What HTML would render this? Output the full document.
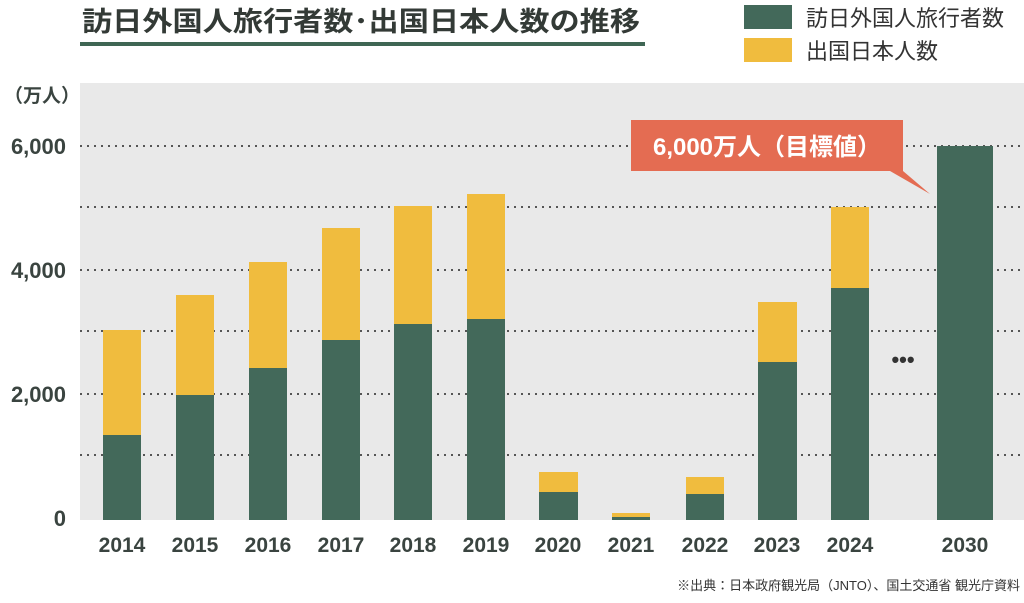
<!DOCTYPE html>
<html><head><meta charset="utf-8"><style>
body{margin:0;background:#fff;}
svg text{font-family:"Liberation Sans","Noto Sans CJK JP",sans-serif;}
</style></head><body>
<svg width="1024" height="598" viewBox="0 0 1024 598" xmlns="http://www.w3.org/2000/svg">
<rect width="1024" height="598" fill="#fff"/>
<text x="82" y="31" font-size="27" font-weight="bold" fill="#333a36" textLength="558" lengthAdjust="spacingAndGlyphs" font-family="Noto Sans CJK JP, sans-serif">訪日外国人旅行者数･出国日本人数の推移</text>
<rect x="80" y="42" width="565" height="4" fill="#3f6654"/>
<rect x="744" y="5" width="48" height="24" fill="#43695a"/>
<text x="806" y="26" font-size="22" fill="#333">訪日外国人旅行者数</text>
<rect x="744" y="38" width="48" height="24" fill="#f0bc3e"/>
<text x="806" y="59" font-size="22" fill="#333">出国日本人数</text>
<rect x="80" y="83" width="944" height="437" fill="#e9e9e9"/>
<g stroke="#555" stroke-width="2" stroke-dasharray="2,5">
<line x1="80" y1="146" x2="1024" y2="146"/><line x1="80" y1="207" x2="1024" y2="207"/>
<line x1="80" y1="270" x2="1024" y2="270"/><line x1="80" y1="331" x2="1024" y2="331"/>
<line x1="80" y1="394" x2="1024" y2="394"/><line x1="80" y1="455" x2="1024" y2="455"/>
</g>
<g font-size="22" font-weight="bold" fill="#3a4440" text-anchor="end">
<text x="66" y="154">6,000</text><text x="66" y="278">4,000</text><text x="66" y="402">2,000</text><text x="66" y="526">0</text>
</g>
<text x="4" y="102" font-size="19" font-weight="bold" fill="#3a4440">（万人）</text>
<g fill="#f0bc3e">
<rect x="103" y="330" width="38" height="190"/><rect x="176" y="295" width="38" height="225"/>
<rect x="249" y="262" width="38" height="258"/><rect x="322" y="228" width="38" height="292"/>
<rect x="394" y="206" width="38" height="314"/><rect x="467" y="194" width="38" height="326"/>
<rect x="539" y="472" width="39" height="48"/><rect x="612" y="513" width="38" height="7"/>
<rect x="686" y="477" width="38" height="43"/><rect x="758" y="302" width="39" height="218"/>
<rect x="831" y="207" width="38" height="313"/>
</g>
<g fill="#43695a">
<rect x="103" y="435" width="38" height="85"/><rect x="176" y="395" width="38" height="125"/>
<rect x="249" y="368" width="38" height="152"/><rect x="322" y="340" width="38" height="180"/>
<rect x="394" y="324" width="38" height="196"/><rect x="467" y="319" width="38" height="201"/>
<rect x="539" y="492" width="39" height="28"/><rect x="612" y="517" width="38" height="3"/>
<rect x="686" y="494" width="38" height="26"/><rect x="758" y="362" width="39" height="158"/>
<rect x="831" y="288" width="38" height="232"/><rect x="937" y="146" width="56" height="374"/>
</g>
<text x="903" y="367" font-size="22" fill="#333" text-anchor="middle" font-weight="bold">•••</text>
<path d="M631 120 H903 V171 H903 L930 194 L890 171 H631 Z" fill="#e46c52"/>
<text x="767" y="155" font-size="24" font-weight="bold" fill="#fff" text-anchor="middle">6,000万人（目標値）</text>
<g font-size="21" font-weight="bold" fill="#3a4440" text-anchor="middle">
<text x="122" y="552">2014</text><text x="195" y="552">2015</text><text x="268" y="552">2016</text>
<text x="341" y="552">2017</text><text x="413" y="552">2018</text><text x="486" y="552">2019</text>
<text x="558" y="552">2020</text><text x="631" y="552">2021</text><text x="705" y="552">2022</text>
<text x="777" y="552">2023</text><text x="850" y="552">2024</text><text x="965" y="552">2030</text>
</g>
<text x="1020" y="590" font-size="13" fill="#333" text-anchor="end">※出典：日本政府観光局（JNTO）、国土交通省 観光庁資料</text>
</svg>
</body></html>
